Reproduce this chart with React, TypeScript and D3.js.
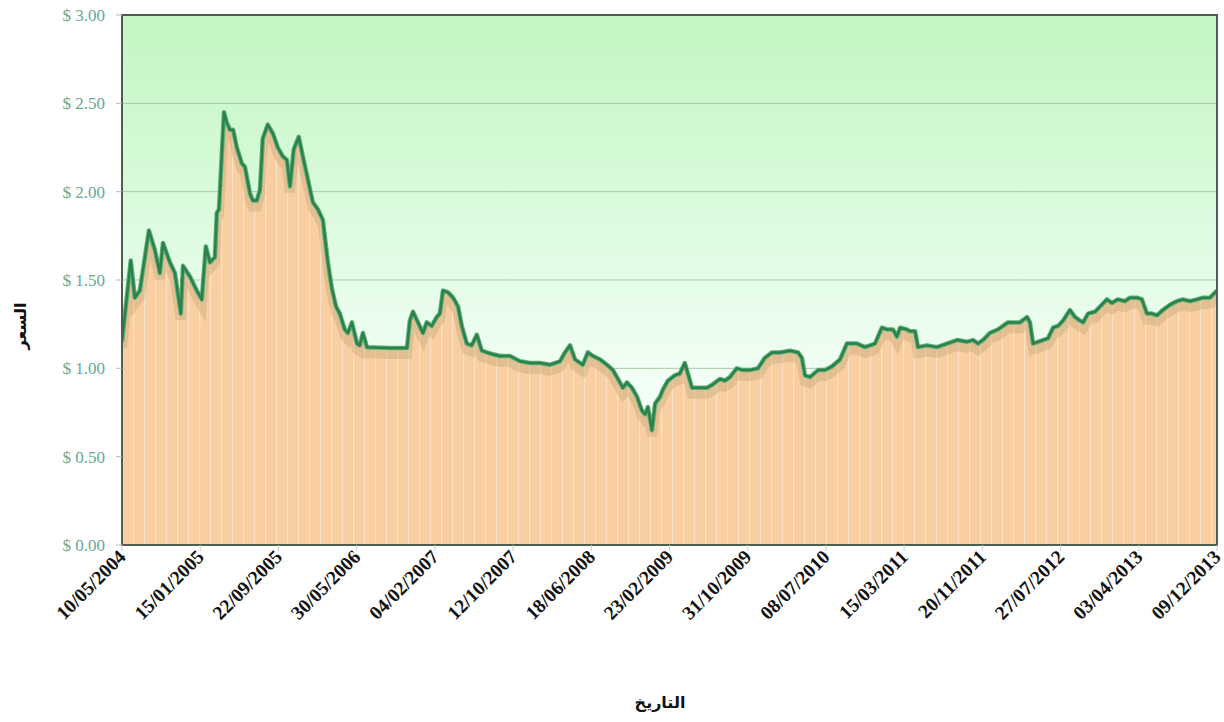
import React from "react";
import * as d3 from "d3";

const xTickLabels = [
  "10/05/2004", "15/01/2005", "22/09/2005", "30/05/2006", "04/02/2007",
  "12/10/2007", "18/06/2008", "23/02/2009", "31/10/2009", "08/07/2010",
  "15/03/2011", "20/11/2011", "27/07/2012", "03/04/2013", "09/12/2013",
];
const yTicks = [0, 0.5, 1, 1.5, 2, 2.5, 3];

const dates = [
  "2004-05-10", "2004-06-07", "2004-06-20", "2004-07-06", "2004-08-04", "2004-08-23",
  "2004-09-08", "2004-09-18", "2004-10-10", "2004-10-26", "2004-11-14", "2004-11-21",
  "2004-12-13", "2005-01-04", "2005-01-20", "2005-02-02", "2005-02-15", "2005-03-03",
  "2005-03-09", "2005-03-16", "2005-04-01", "2005-04-10", "2005-04-20", "2005-04-30",
  "2005-05-12", "2005-05-28", "2005-06-07", "2005-06-23", "2005-07-02", "2005-07-15",
  "2005-07-25", "2005-08-03", "2005-08-19", "2005-09-04", "2005-09-20", "2005-10-06",
  "2005-10-19", "2005-10-29", "2005-11-10", "2005-11-26", "2005-12-09", "2005-12-25",
  "2006-01-10", "2006-01-26", "2006-02-11", "2006-02-27", "2006-03-12", "2006-03-25",
  "2006-04-06", "2006-04-22", "2006-05-02", "2006-05-15", "2006-05-31", "2006-06-09",
  "2006-06-19", "2006-07-02", "2006-09-13", "2006-11-07", "2006-11-16", "2006-11-26",
  "2006-12-12", "2006-12-28", "2007-01-09", "2007-01-25", "2007-02-10", "2007-02-20",
  "2007-03-02", "2007-03-18", "2007-04-03", "2007-04-19", "2007-05-01", "2007-05-17",
  "2007-06-02", "2007-06-18", "2007-07-04", "2007-07-20", "2007-08-08", "2007-08-31",
  "2007-10-02", "2007-11-03", "2007-12-05", "2008-01-06", "2008-02-07", "2008-03-10",
  "2008-03-26", "2008-04-11", "2008-04-27", "2008-05-22", "2008-06-07", "2008-06-23",
  "2008-07-16", "2008-08-07", "2008-08-26", "2008-09-08", "2008-09-27", "2008-10-10",
  "2008-10-26", "2008-11-11", "2008-11-27", "2008-12-07", "2008-12-16", "2008-12-29",
  "2009-01-08", "2009-01-24", "2009-02-02", "2009-02-18", "2009-03-12", "2009-03-28",
  "2009-04-13", "2009-04-23", "2009-05-06", "2009-05-25", "2009-06-23", "2009-07-12",
  "2009-08-03", "2009-08-19", "2009-09-04", "2009-09-26", "2009-10-15", "2009-11-07",
  "2009-12-03", "2009-12-25", "2010-01-17", "2010-02-11", "2010-03-15", "2010-04-10",
  "2010-04-22", "2010-05-02", "2010-05-18", "2010-06-13", "2010-07-05", "2010-07-27",
  "2010-08-22", "2010-09-13", "2010-10-15", "2010-11-10", "2010-12-12", "2011-01-03",
  "2011-01-19", "2011-02-07", "2011-02-20", "2011-03-02", "2011-03-24", "2011-04-03",
  "2011-04-19", "2011-04-28", "2011-05-27", "2011-06-28", "2011-07-30", "2011-08-31",
  "2011-10-02", "2011-10-21", "2011-11-06", "2011-11-22", "2011-12-14", "2012-01-09",
  "2012-01-25", "2012-02-10", "2012-02-26", "2012-03-19", "2012-04-11", "2012-04-20",
  "2012-04-30", "2012-05-16", "2012-06-01", "2012-06-17", "2012-07-03", "2012-07-19",
  "2012-08-04", "2012-08-26", "2012-09-11", "2012-09-27", "2012-10-07", "2012-10-23",
  "2012-11-14", "2012-12-06", "2012-12-22", "2013-01-07", "2013-01-26", "2013-02-18",
  "2013-03-06", "2013-03-28", "2013-04-13", "2013-04-29", "2013-05-15", "2013-05-31",
  "2013-06-19", "2013-07-12", "2013-08-03", "2013-08-22", "2013-09-14", "2013-10-06",
  "2013-10-25", "2013-11-17", "2013-12-09",
];

const prices = [
  1.15, 1.61, 1.40, 1.44, 1.78, 1.67,
  1.54, 1.71, 1.60, 1.54, 1.31, 1.58,
  1.52, 1.44, 1.39, 1.69, 1.60, 1.63,
  1.88, 1.90, 2.45, 2.39, 2.35, 2.35,
  2.25, 2.16, 2.14, 1.99, 1.95, 1.95,
  2.01, 2.30, 2.38, 2.33, 2.25, 2.20,
  2.18, 2.03, 2.24, 2.31, 2.20, 2.07,
  1.94, 1.90, 1.84, 1.60, 1.45, 1.35,
  1.31, 1.22, 1.20, 1.26, 1.14, 1.13,
  1.20, 1.12, 1.115, 1.115, 1.27, 1.32,
  1.26, 1.20, 1.26, 1.24, 1.29, 1.31,
  1.44, 1.43, 1.40, 1.35, 1.24, 1.14,
  1.13, 1.19, 1.10, 1.09, 1.08, 1.07,
  1.07, 1.04, 1.03, 1.03, 1.02, 1.04,
  1.09, 1.13, 1.05, 1.02, 1.09, 1.07,
  1.05, 1.02, 0.99, 0.95, 0.89, 0.92,
  0.89, 0.84, 0.76, 0.74, 0.78, 0.65,
  0.80, 0.84, 0.88, 0.93, 0.96, 0.97,
  1.03, 0.97, 0.89, 0.89, 0.89, 0.91,
  0.94, 0.93, 0.95, 1.00, 0.99, 0.99,
  1.00, 1.06, 1.09, 1.09, 1.10, 1.09,
  1.06, 0.96, 0.95, 0.99, 0.99, 1.01,
  1.05, 1.14, 1.14, 1.12, 1.14, 1.23,
  1.22, 1.22, 1.18, 1.23, 1.22, 1.21,
  1.21, 1.12, 1.13, 1.12, 1.14, 1.16,
  1.15, 1.16, 1.14, 1.16, 1.20, 1.22,
  1.24, 1.26, 1.26, 1.26, 1.29, 1.26,
  1.14, 1.15, 1.16, 1.17, 1.23, 1.24,
  1.27, 1.33, 1.29, 1.27, 1.26, 1.31,
  1.32, 1.36, 1.39, 1.37, 1.39, 1.38,
  1.40, 1.40, 1.39, 1.31, 1.31, 1.30,
  1.33, 1.36, 1.38, 1.39, 1.38, 1.39,
  1.40, 1.40, 1.44,
];

const yTitle = "السعر";
const xTitle = "التاريخ";

export default function App() {
  const W = 1224, H = 722;
  const left = 122, right = 1217, top = 15, bottom = 545;
  const parseTick = d3.timeParse("%d/%m/%Y");
  const parseDate = d3.timeParse("%Y-%m-%d");
  const tickDates = xTickLabels.map((s) => parseTick(s) as Date);
  const x = d3.scaleTime().domain([tickDates[0], tickDates[tickDates.length - 1]]).range([left, right]);
  const y = d3.scaleLinear().domain([0, 3]).range([bottom, top]);
  const data = dates.map((d, i) => ({ date: parseDate(d) as Date, v: prices[i] }));
  const line = d3.line<any>().x((d) => x(d.date)).y((d) => y(d.v));
  const area = d3.area<any>().x((d) => x(d.date)).y0(bottom).y1((d) => y(d.v));
  const fmt = (v: number) => "$ " + v.toFixed(2);

  return (
    <svg width={W} height={H} style={{ position: "absolute", left: 0, top: 0, background: "#fff" }}>
      <defs>
        <linearGradient id="bg" x1="0" y1="0" x2="0" y2="1">
          <stop offset="0" stopColor="#c2f6c2" />
          <stop offset="0.7" stopColor="#f2fff6" />
          <stop offset="1" stopColor="#ffffff" />
        </linearGradient>
        <clipPath id="plot">
          <rect x={left} y={top} width={right - left} height={bottom - top} />
        </clipPath>
        <clipPath id="areaClip">
          <path d={area(data) || ""} />
        </clipPath>
        <pattern id="stripes" x={left} y="0" width="11" height="10" patternUnits="userSpaceOnUse">
          <rect x="0" y="0" width="1.2" height="10" fill="#fde6cc" />
        </pattern>
      </defs>
      <rect x={left} y={top} width={right - left} height={bottom - top} fill="url(#bg)" />
      {yTicks.map((t) => (
        <line key={t} x1={left} x2={right} y1={y(t)} y2={y(t)} stroke="#a9c9a9" strokeWidth={1} />
      ))}
      <g clipPath="url(#plot)">
        <path d={area(data) || ""} fill="#f9cea2" />
        <rect x={left} y={top} width={right - left} height={bottom - top} fill="url(#stripes)" clipPath="url(#areaClip)" opacity={0.8} />
        <g clipPath="url(#areaClip)">
          <path d={line(data) || ""} fill="none" stroke="#b9a070" strokeOpacity={0.35} strokeWidth={10} transform="translate(0,6)" />
        </g>
        <path d={line(data) || ""} fill="none" stroke="#5fb07a" strokeWidth={4.5} strokeLinejoin="round" />
        <path d={line(data) || ""} fill="none" stroke="#2c8049" strokeWidth={2.5} strokeLinejoin="round" />
      </g>
      <rect x={left} y={top} width={right - left} height={bottom - top} fill="none" stroke="#4e5e4e" strokeWidth={2} />
      {yTicks.map((t) => (
        <g key={t}>
          <line x1={left - 6} x2={left} y1={y(t)} y2={y(t)} stroke="#bbbbbb" />
          <text x={105} y={y(t)} dy="0.35em" textAnchor="end" fill="#66a88f"
            style={{ fontFamily: "'Liberation Serif', 'Times New Roman', serif", fontSize: 17 }}>
            {fmt(t)}
          </text>
        </g>
      ))}
      {tickDates.map((d, i) => (
        <g key={i}>
          <line x1={x(d)} x2={x(d)} y1={bottom} y2={bottom + 6} stroke="#cccccc" />
          <text transform={`translate(${x(d) + 5},${bottom + 13}) rotate(-45)`} textAnchor="end" fill="#111"
            style={{ fontFamily: "'Liberation Serif', 'Times New Roman', serif", fontSize: 19.5, fontWeight: 700 }}>
            {xTickLabels[i]}
          </text>
        </g>
      ))}
      <text transform={`translate(26,${(top + bottom) / 2 + 46}) rotate(-90)`} textAnchor="middle" fill="#111"
        style={{ fontFamily: "'DejaVu Sans', sans-serif", fontSize: 16, fontWeight: 700 }}>
        {yTitle}
      </text>
      <text x={660} y={708} textAnchor="middle" fill="#111"
        style={{ fontFamily: "'DejaVu Sans', sans-serif", fontSize: 16, fontWeight: 700 }}>
        {xTitle}
      </text>
    </svg>
  );
}
